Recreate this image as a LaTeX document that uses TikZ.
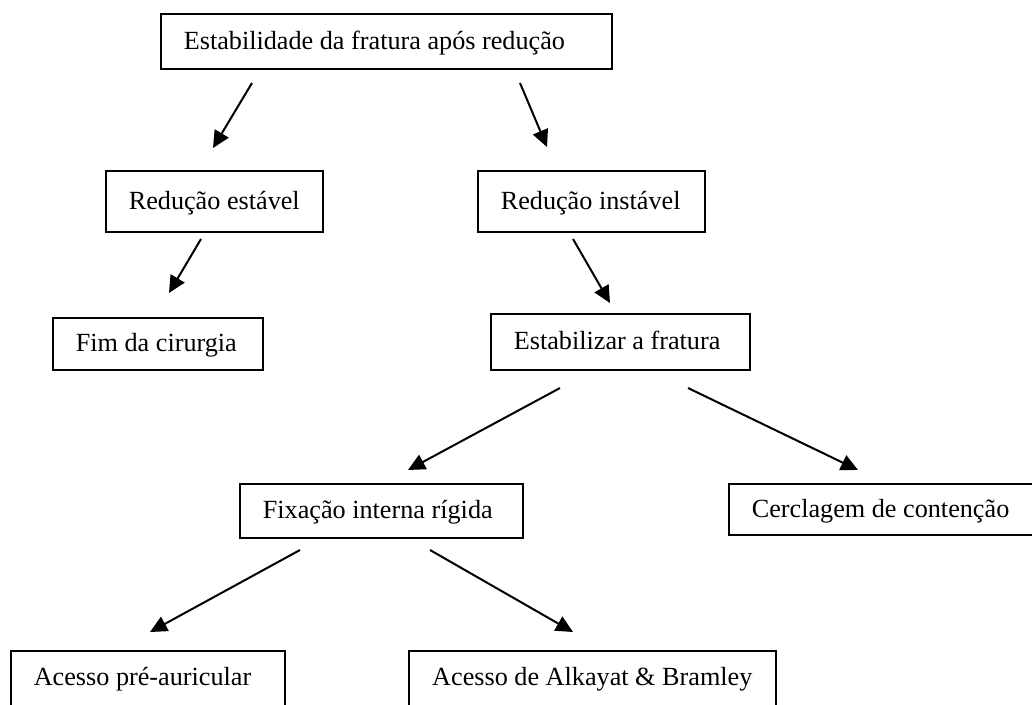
\documentclass[tikz,border=0pt]{standalone}
\usepackage{fontspec}
\setmainfont{Liberation Serif}
\usepackage{tikz}
\usetikzlibrary{arrows.meta,positioning}

\begin{document}
\begin{tikzpicture}[
  x=1pt, y=-1pt,
  box/.style={draw, line width=1.6pt, anchor=north west, align=flush left,
    inner xsep=23pt, inner ysep=0pt, text height=21pt, text depth=5pt,
    font=\fontsize{26.2pt}{31pt}\selectfont},
  lastbox/.style={box, inner ysep=14pt, text depth=11pt},
  arr/.style={-{Triangle[length=17pt,width=16pt]}, line width=2pt}
]
\useasboundingbox (0,0) rectangle (1032,704);

% boxes
\node[box, text width=405pt, minimum height=55pt] (top) at (160,13) {Estabilidade da fratura após redução};
\node[box, text width=171pt, minimum height=61pt] (stable) at (105,170) {Redução estável};
\node[box, text width=181pt, minimum height=61pt] (unstable) at (477,170) {Redução instável};
\node[box, text width=164pt, minimum height=52pt] (endsurg) at (52,317) {Fim da cirurgia};
\node[box, text width=213pt, minimum height=56pt] (stabilize) at (490,313) {Estabilizar a fratura};
\node[box, text width=237pt, minimum height=54pt] (rigid) at (239,483) {Fixação interna rígida};
\node[box, text width=264pt, minimum height=51pt] (cerclage) at (728,483) {Cerclagem de contenção};
\node[lastbox, text width=228pt] (preaur) at (10,650) {Acesso pré-auricular};
\node[lastbox, minimum width=367pt] (alkayat) at (408,650) {Acesso de Alkayat \& Bramley};

% arrow ends
\coordinate (top-l) at (252,83);
\coordinate (stable-in) at (213,148);
\coordinate (top-r) at (520,83);
\coordinate (unstable-in) at (547,147);
\coordinate (stable-out) at (201,239);
\coordinate (endsurg-in) at (169,293);
\coordinate (unstable-out) at (573,239);
\coordinate (stabilize-in) at (610,303);
\coordinate (stabilize-l) at (560,388);
\coordinate (rigid-in) at (408,470);
\coordinate (stabilize-r) at (688,388);
\coordinate (cerclage-in) at (858,470);
\coordinate (rigid-l) at (300,550);
\coordinate (preaur-in) at (150,632);
\coordinate (rigid-r) at (430,550);
\coordinate (alkayat-in) at (573,632);

\draw[arr] (top-l) -- (stable-in);
\draw[arr] (top-r) -- (unstable-in);
\draw[arr] (stable-out) -- (endsurg-in);
\draw[arr] (unstable-out) -- (stabilize-in);
\draw[arr] (stabilize-l) -- (rigid-in);
\draw[arr] (stabilize-r) -- (cerclage-in);
\draw[arr] (rigid-l) -- (preaur-in);
\draw[arr] (rigid-r) -- (alkayat-in);
\end{tikzpicture}
\end{document}
